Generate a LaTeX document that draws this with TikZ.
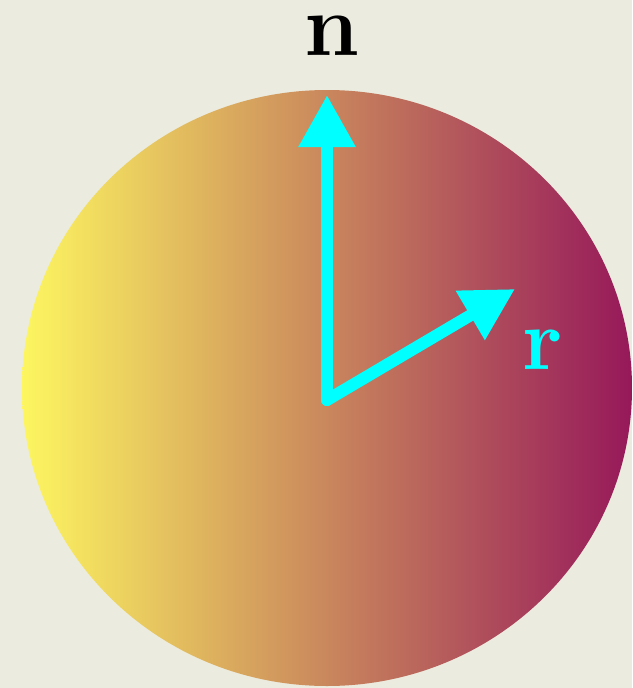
\documentclass[tikz,border=0pt]{standalone}
\usetikzlibrary{arrows.meta}
\definecolor{paper}{RGB}{236,235,223}
\definecolor{ballleft}{RGB}{253,246,96}
\definecolor{ballright}{RGB}{150,24,90}
\definecolor{vec}{RGB}{0,255,255}
\tikzset{
  vecarrow/.style={draw=vec, line width=12pt, line cap=round,
    -{Triangle[length=52pt,width=54pt]}},
  biglabel/.style={inner sep=0pt, font=\fontsize{88}{88}\selectfont\bfseries}
}
\begin{document}
\begin{tikzpicture}[x=1pt,y=-1pt]
\fill[paper] (0,0) rectangle (632,688);
\useasboundingbox (0,0) rectangle (632,688);
\shade[left color=ballleft, right color=ballright] (327,388) ellipse [x radius=305pt, y radius=298pt];
\coordinate (o) at (327,400);
\coordinate (ntip) at (327,95);
\coordinate (rtip) at (515,289);
\draw[vecarrow] (o) -- (ntip);
\draw[vecarrow] (o) -- (rtip);
\node[biglabel, anchor=base, text=black] (nlab) at (332,55) {n};
\node[biglabel, anchor=base, text=vec] (rlab) at (543,369) {r};
\end{tikzpicture}
\end{document}
